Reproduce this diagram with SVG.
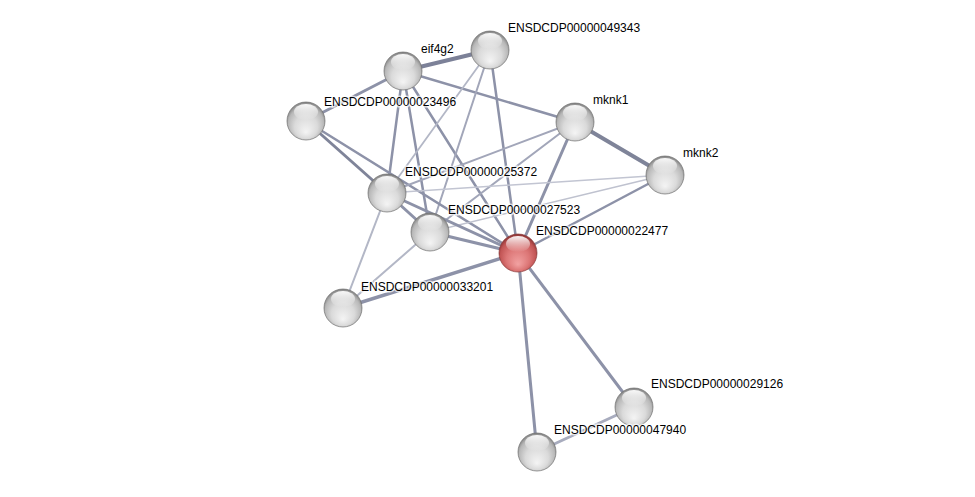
<svg xmlns="http://www.w3.org/2000/svg" width="975" height="497" viewBox="0 0 975 497">
<defs>
<radialGradient id="gw" cx="0.5" cy="0.55" r="0.55" fx="0.5" fy="0.8">
<stop offset="0" stop-color="#f4f4f4"/>
<stop offset="0.55" stop-color="#dadada"/>
<stop offset="0.85" stop-color="#b8b8b8"/>
<stop offset="1" stop-color="#808080"/>
</radialGradient>
<radialGradient id="gr" cx="0.5" cy="0.55" r="0.55" fx="0.5" fy="0.8">
<stop offset="0" stop-color="#f2a2a2"/>
<stop offset="0.55" stop-color="#dc7676"/>
<stop offset="0.85" stop-color="#c25555"/>
<stop offset="1" stop-color="#883232"/>
</radialGradient>
<linearGradient id="hl" x1="0" y1="0" x2="0" y2="1">
<stop offset="0" stop-color="#fff" stop-opacity="0.95"/>
<stop offset="1" stop-color="#fff" stop-opacity="0"/>
</linearGradient>
<g id="hi"><ellipse cx="0" cy="-9" rx="12" ry="8" fill="url(#hl)"/></g>
</defs>
<style>
.e{stroke:#8d92a8;stroke-linecap:round;fill:none}
.l{stroke:#b3b7c6}
.t{font-family:"Liberation Sans",Arial,sans-serif;font-size:12px;fill:#000;stroke:#fff;stroke-width:3px;stroke-opacity:0.7;paint-order:stroke}
.n{stroke:#6e6e6e;stroke-width:0.7}
</style>
<rect width="975" height="497" fill="#fff"/>
<g id="edges">
<line class="e" x1="403" y1="71" x2="490" y2="50" stroke-width="4" style="stroke:#7c8198"/>
<line class="e" x1="403" y1="71" x2="306" y2="121" stroke-width="3"/>
<line class="e" x1="403" y1="71" x2="575" y2="122" stroke-width="2.5"/>
<line class="e" x1="403" y1="71" x2="387" y2="193" stroke-width="2.5"/>
<line class="e" x1="403" y1="71" x2="430" y2="232" stroke-width="2.5"/>
<line class="e" x1="403" y1="71" x2="518" y2="253" stroke-width="2.5"/>
<line class="e l" x1="490" y1="50" x2="387" y2="193" stroke-width="1.8"/>
<line class="e" x1="490" y1="50" x2="430" y2="232" stroke-width="2" style="stroke:#a2a6b9"/>
<line class="e" x1="490" y1="50" x2="518" y2="253" stroke-width="2.5"/>
<line class="e" x1="306" y1="121" x2="387" y2="193" stroke-width="3" style="stroke:#7f8499"/>
<line class="e" x1="306" y1="121" x2="518" y2="253" stroke-width="2.5"/>
<line class="e" x1="575" y1="122" x2="665" y2="175" stroke-width="4" style="stroke:#7f8499"/>
<line class="e" x1="575" y1="122" x2="518" y2="253" stroke-width="3"/>
<line class="e" x1="575" y1="122" x2="387" y2="193" stroke-width="2" style="stroke:#a2a6b9"/>
<line class="e" x1="575" y1="122" x2="430" y2="232" stroke-width="2" style="stroke:#a2a6b9"/>
<line class="e" x1="665" y1="175" x2="518" y2="253" stroke-width="2.5"/>
<line class="e l" x1="665" y1="175" x2="387" y2="193" stroke-width="1.5" style="stroke:#c2c5d2"/>
<line class="e l" x1="665" y1="175" x2="430" y2="232" stroke-width="1.5" style="stroke:#bfc2cf"/>
<line class="e" x1="387" y1="193" x2="430" y2="232" stroke-width="3"/>
<line class="e" x1="387" y1="193" x2="518" y2="253" stroke-width="3"/>
<line class="e l" x1="387" y1="193" x2="343" y2="308" stroke-width="2"/>
<line class="e" x1="430" y1="232" x2="518" y2="253" stroke-width="3"/>
<line class="e l" x1="430" y1="232" x2="343" y2="308" stroke-width="2"/>
<line class="e" x1="518" y1="253" x2="343" y2="308" stroke-width="3.5"/>
<line class="e" x1="518" y1="253" x2="537" y2="452" stroke-width="3"/>
<line class="e" x1="518" y1="253" x2="634" y2="407" stroke-width="3"/>
<line class="e l" x1="634" y1="407" x2="537" y2="452" stroke-width="3" style="stroke:#a8acbe"/>
</g>
<g id="eif4g2"><circle class="n" cx="403" cy="71" r="19" fill="url(#gw)"/><use href="#hi" x="403" y="71"/><text class="t" x="421" y="53">eif4g2</text></g>
<g id="ENSDCDP00000049343"><circle class="n" cx="490" cy="50" r="19" fill="url(#gw)"/><use href="#hi" x="490" y="50"/><text class="t" x="508" y="32">ENSDCDP00000049343</text></g>
<g id="ENSDCDP00000023496"><circle class="n" cx="306" cy="121" r="19" fill="url(#gw)"/><use href="#hi" x="306" y="121"/><text class="t" x="324" y="106">ENSDCDP00000023496</text></g>
<g id="mknk1"><circle class="n" cx="575" cy="122" r="19" fill="url(#gw)"/><use href="#hi" x="575" y="122"/><text class="t" x="593" y="104">mknk1</text></g>
<g id="mknk2"><circle class="n" cx="665" cy="175" r="19" fill="url(#gw)"/><use href="#hi" x="665" y="175"/><text class="t" x="683" y="157">mknk2</text></g>
<g id="ENSDCDP00000025372"><circle class="n" cx="387" cy="193" r="19" fill="url(#gw)"/><use href="#hi" x="387" y="193"/><text class="t" x="405" y="176">ENSDCDP00000025372</text></g>
<g id="ENSDCDP00000027523"><circle class="n" cx="430" cy="232" r="19" fill="url(#gw)"/><use href="#hi" x="430" y="232"/><text class="t" x="448" y="214">ENSDCDP00000027523</text></g>
<g id="ENSDCDP00000022477"><circle class="n" cx="518" cy="253" r="19" fill="url(#gr)" style="stroke:#8a3a3a"/><use href="#hi" x="518" y="253"/><text class="t" x="536" y="235">ENSDCDP00000022477</text></g>
<g id="ENSDCDP00000033201"><circle class="n" cx="343" cy="308" r="19" fill="url(#gw)"/><use href="#hi" x="343" y="308"/><text class="t" x="361" y="291">ENSDCDP00000033201</text></g>
<g id="ENSDCDP00000029126"><circle class="n" cx="634" cy="407" r="19" fill="url(#gw)"/><use href="#hi" x="634" y="407"/><text class="t" x="651" y="388">ENSDCDP00000029126</text></g>
<g id="ENSDCDP00000047940"><circle class="n" cx="537" cy="452" r="19" fill="url(#gw)"/><use href="#hi" x="537" y="452"/><text class="t" x="554" y="434">ENSDCDP00000047940</text></g>
</svg>
